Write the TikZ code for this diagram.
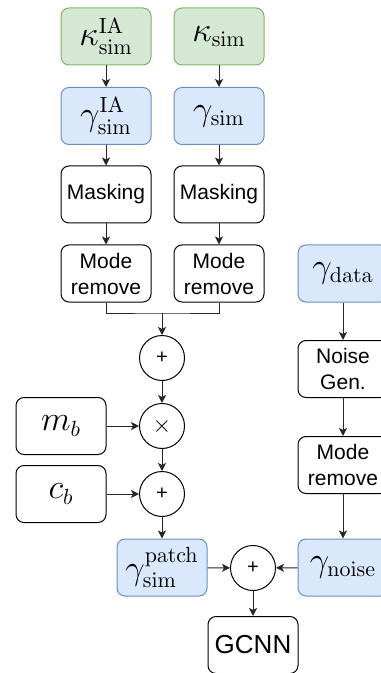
\documentclass[tikz,border=0pt]{standalone}
\usepackage{amsmath}
\usepackage[no-math]{fontspec}
\newfontfamily\helv{Liberation Sans}
\usetikzlibrary{arrows.meta}

\definecolor{kapfill}{HTML}{D5E8D4}
\definecolor{kapdraw}{HTML}{82B366}
\definecolor{gamfill}{HTML}{DAE8FC}
\definecolor{gamdraw}{HTML}{6C8EBF}

\begin{document}
\begin{tikzpicture}[x=0.5pt,y=-0.5pt,
		box/.style={rectangle,rounded corners=4pt,draw,line width=0.5pt,
			minimum width=45pt,minimum height=28.5pt,inner sep=1pt,align=center,
			font=\helv\fontsize{10.5}{13}\selectfont},
		mathbox/.style={box,font=\fontsize{16}{18}\selectfont},
		kapbox/.style={mathbox,fill=kapfill,draw=kapdraw},
		gambox/.style={mathbox,fill=gamfill,draw=gamdraw},
		op/.style={circle,draw,line width=0.5pt,minimum size=22.5pt,inner sep=0pt,
			font=\helv\fontsize{10}{12}\selectfont},
		arr/.style={-{Stealth[length=4pt,width=4pt,inset=1pt]},line width=0.5pt,black!85}]
		\useasboundingbox (0,0) rectangle (380,673);

		% Simulated convergence maps
		\node[kapbox] (kap1) at (106,36.5) {$\kappa^{\mathrm{IA}}_{\mathrm{sim}}$};
		\node[kapbox] (kap2) at (219,36.5) {$\kappa_{\mathrm{sim}}$};

		% Shear maps
		\node[gambox] (gam1) at (106,116) {$\gamma^{\mathrm{IA}}_{\mathrm{sim}}$};
		\node[gambox] (gam2) at (219,116) {$\gamma_{\mathrm{sim}}$};

		% Masking and mode removal on both columns
		\foreach \i/\x in {1/106,2/219} {
			\node[box] (mask\i) at (\x,194.5) {Masking};
			\node[box] (mr\i) at (\x,273.5) {Mode\\remove};
			\draw[arr] (kap\i) -- (gam\i);
			\draw[arr] (gam\i) -- (mask\i);
			\draw[arr] (mask\i) -- (mr\i);
		}

		% Sum, then multiplicative and additive bias
		\coordinate (join) at (162,313);
		\node[op] (sum) at (162,358) {+};
		\node[op,font=\fontsize{12}{12}\selectfont] (mult) at (162,426) {$\times$};
		\node[op] (add) at (162,494) {+};
		\node[mathbox] (mb) at (61,426) {$m_b$};
		\node[mathbox] (cb) at (61,494) {$c_b$};
		\draw[line width=0.5pt,black!85] (mr1.south) |- (join) -| (mr2.south);
		\draw[arr] (join) -- (sum);
		\draw[arr] (sum) -- (mult);
		\draw[arr] (mult) -- (add);
		\draw[arr] (mb) -- (mult);
		\draw[arr] (cb) -- (add);

		% Noise branch from data
		\node[gambox] (gdata) at (343,273.5) {$\gamma_{\mathrm{data}}$};
		\node[box] (noise) at (343,369) {Noise\\Gen.};
		\node[box] (mr3) at (343,465) {Mode\\remove};
		\node[gambox] (gnoise) at (343,567.5) {$\gamma_{\mathrm{noise}}$};
		\draw[arr] (gdata) -- (noise);
		\draw[arr] (noise) -- (mr3);
		\draw[arr] (mr3) -- (gnoise);

		% Final patch plus noise
		\node[gambox] (patch) at (162,567.5) {$\gamma^{\mathrm{patch}}_{\mathrm{sim}}$};
		\node[op] (final) at (253,568) {+};
		\node[box,font=\helv\fontsize{13}{15}\selectfont] (gcnn) at (253,645) {GCNN};
		\draw[arr] (add) -- (patch);
		\draw[arr] (patch) -- (final);
		\draw[arr] (gnoise) -- (final);
		\draw[arr] (final) -- (gcnn);
\end{tikzpicture}
\end{document}
